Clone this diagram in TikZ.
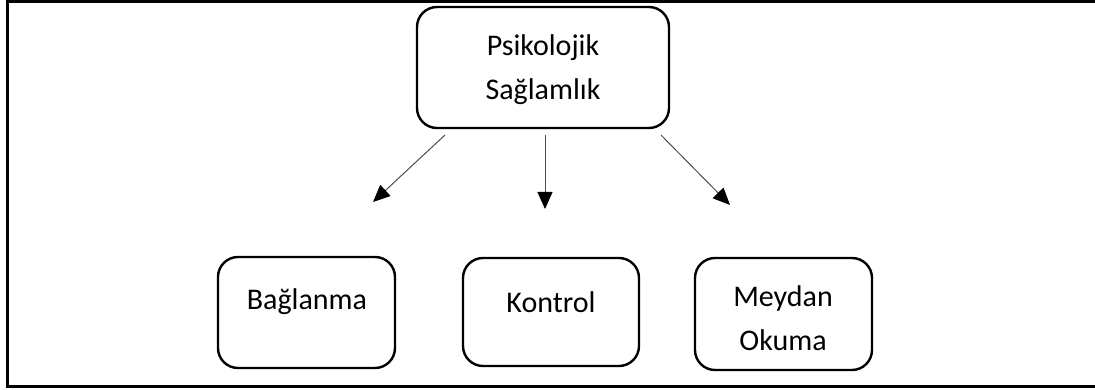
\documentclass[tikz,border=0pt]{standalone}
\usepackage{fontspec}
\setmainfont{Carlito}
\usetikzlibrary{arrows.meta}
\begin{document}
\begin{tikzpicture}[x=1pt,y=-1pt,
  box/.style={draw=black,line width=2.4pt,rounded corners=20pt},
  lbl/.style={font=\fontsize{30}{44}\selectfont,align=center,inner sep=0pt},
  conn/.style={draw=black!70,line width=1pt,-{Triangle[length=17pt,width=15pt,color=black]}}]
\useasboundingbox (0,0) rectangle (1095,390);
\draw[line width=3pt] (1100,1.5) -- (7,1.5) -- (7,386.5) -- (1100,386.5);
% top box
\draw[box] (417,7) rectangle (669,128);
\node[lbl] (top) at (543,70) {Psikolojik\\Sağlamlık};
% bottom boxes
\draw[box] (218,257) rectangle (395,368);
\node[lbl] (b1) at (307,302) {Bağlanma};
\draw[box] (463,258) rectangle (639,366);
\node[lbl] (b2) at (551,302) {Kontrol};
\draw[box] (695,258) rectangle (872,370);
\node[lbl] (b3) at (783,318) {Meydan\\Okuma};
% arrows
\coordinate (s1) at (445,135); \coordinate (e1) at (373,202);
\coordinate (s2) at (545,135); \coordinate (e2) at (545,209);
\coordinate (s3) at (661,135); \coordinate (e3) at (730,205);
\draw[conn] (s1) -- (e1);
\draw[conn] (s2) -- (e2);
\draw[conn] (s3) -- (e3);
\end{tikzpicture}
\end{document}
